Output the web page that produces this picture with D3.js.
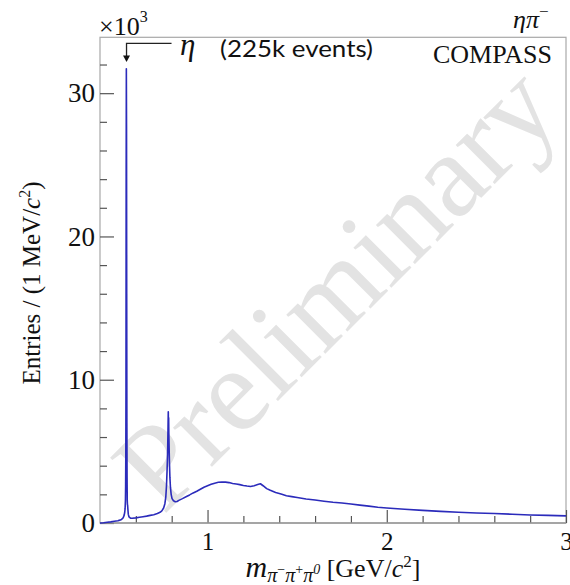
<!DOCTYPE html>
<html>
<head>
<meta charset="utf-8">
<script src="https://cdn.jsdelivr.net/npm/d3@7"></script>
<style>
  html, body { margin: 0; padding: 0; background: #fff; }
  svg { display: block; }
  .serif { font-family: "Liberation Serif", "DejaVu Serif", serif; }
</style>
</head>
<body>
<svg id="chart" width="570" height="585"></svg>
<script>
// π−π+π0 invariant mass spectrum, 1 MeV bins (counts in thousands)
const massGeV = [
  0.400, 0.420, 0.440, 0.460, 0.480, 0.500, 0.510, 0.520, 0.525, 0.530,
  0.535, 0.538, 0.540, 0.542, 0.543, 0.544, 0.545, 0.546, 0.547, 0.548,
  0.549, 0.550, 0.551, 0.552, 0.553, 0.554, 0.556, 0.558, 0.562, 0.570,
  0.580, 0.600, 0.620, 0.640, 0.660, 0.680, 0.700, 0.720, 0.735, 0.745,
  0.755, 0.762, 0.767, 0.771, 0.774, 0.777, 0.779, 0.780, 0.781, 0.782,
  0.783, 0.784, 0.786, 0.788, 0.790, 0.793, 0.797, 0.802, 0.810, 0.820,
  0.830, 0.840, 0.860, 0.880, 0.900, 0.920, 0.940, 0.960, 0.980, 1.000,
  1.020, 1.040, 1.060, 1.080, 1.100, 1.120, 1.140, 1.160, 1.180, 1.200,
  1.220, 1.240, 1.260, 1.280, 1.295, 1.310, 1.330, 1.350, 1.380, 1.410,
  1.440, 1.470, 1.500, 1.550, 1.600, 1.650, 1.700, 1.750, 1.800, 1.850,
  1.900, 1.950, 2.000, 2.100, 2.200, 2.300, 2.400, 2.500, 2.600, 2.700,
  2.800, 2.900, 3.000
];
const entriesK = [
  0.00, 0.02, 0.05, 0.08, 0.12, 0.16, 0.20, 0.25, 0.30, 0.38,
  0.55, 0.75, 1.00, 1.60, 2.60, 4.70, 9.50, 24.2, 31.7, 27.7,
  16.0, 7.00, 3.20, 1.60, 1.30, 1.25, 0.90, 0.60, 0.42, 0.34,
  0.33, 0.36, 0.40, 0.44, 0.48, 0.53, 0.58, 0.66, 0.75, 0.85,
  1.05, 1.35, 1.80, 2.60, 3.60, 4.80, 6.20, 7.00, 7.77, 6.70,
  7.35, 6.30, 5.00, 4.00, 3.20, 2.50, 2.00, 1.70, 1.55, 1.48,
  1.50, 1.58, 1.70, 1.83, 1.96, 2.10, 2.22, 2.36, 2.50, 2.60,
  2.70, 2.78, 2.84, 2.86, 2.85, 2.82, 2.76, 2.72, 2.68, 2.62,
  2.58, 2.55, 2.60, 2.68, 2.74, 2.60, 2.40, 2.28, 2.13, 2.02,
  1.90, 1.84, 1.78, 1.68, 1.60, 1.52, 1.45, 1.40, 1.33, 1.25,
  1.18, 1.10, 1.05, 0.96, 0.88, 0.81, 0.75, 0.70, 0.66, 0.61,
  0.56, 0.53, 0.50
];

// axis ticks
const xMajorTicks = [1, 2, 3];
const xMinorTicks = [0.6, 0.8, 1.2, 1.4, 1.6, 1.8, 2.2, 2.4, 2.6, 2.8];
const yMajorTicks = [0, 10, 20, 30];
const yMinorTicks = [2, 4, 6, 8, 12, 14, 16, 18, 22, 24, 26, 28, 32];

const etaMass = 0.548;

const svg = d3.select("#chart");
const frame = { left: 100, right: 566, top: 37.3, bottom: 523 };

const x = d3.scaleLinear().domain([0.4, 3.0]).range([frame.left, frame.right]);
const y = d3.scaleLinear().domain([0, 33.9]).range([frame.bottom, frame.top]);

// watermark
svg.append("text")
  .attr("class", "serif")
  .attr("transform", "translate(338,290) rotate(-45)")
  .attr("text-anchor", "middle")
  .attr("dy", "0.3em")
  .attr("font-size", 120)
  .attr("fill", "#e3e3e3")
  .text("Preliminary");

// frame
svg.append("rect")
  .attr("x", frame.left).attr("y", frame.top)
  .attr("width", frame.right - frame.left)
  .attr("height", frame.bottom - frame.top)
  .attr("fill", "none")
  .attr("stroke", "#a8a8a8")
  .attr("stroke-width", 1.2);

// axes with inward ticks
const axisStyle = g => {
  g.select(".domain").remove();
  g.selectAll(".tick line").attr("stroke", "#555").attr("stroke-width", 1.2);
};

svg.append("g")
  .attr("transform", `translate(0,${frame.bottom})`)
  .call(d3.axisBottom(x).tickValues(xMinorTicks).tickSize(-7).tickFormat(""))
  .call(axisStyle);

svg.append("g")
  .attr("transform", `translate(0,${frame.bottom})`)
  .call(d3.axisBottom(x).tickValues(xMajorTicks).tickSize(-13).tickPadding(9).tickFormat(d3.format("d")))
  .call(axisStyle)
  .call(g => g.selectAll("text")
    .attr("class", "serif")
    .attr("font-size", 25)
    .attr("fill", "#111"));

svg.append("g")
  .attr("transform", `translate(${frame.left},0)`)
  .call(d3.axisLeft(y).tickValues(yMinorTicks).tickSize(-7).tickFormat(""))
  .call(axisStyle);

svg.append("g")
  .attr("transform", `translate(${frame.left},0)`)
  .call(d3.axisLeft(y).tickValues(yMajorTicks).tickSize(-14).tickPadding(5).tickFormat(d3.format("d")))
  .call(axisStyle)
  .call(g => g.selectAll("text")
    .attr("class", "serif")
    .attr("font-size", 27)
    .attr("fill", "#111"));

// bottom axis line
svg.append("line")
  .attr("x1", frame.left).attr("x2", frame.right)
  .attr("y1", frame.bottom).attr("y2", frame.bottom)
  .attr("stroke", "#999").attr("stroke-width", 1.4);

// spectrum
const spectrum = massGeV.map((m, i) => [m, entriesK[i]]);
svg.append("path")
  .datum(spectrum)
  .attr("fill", "none")
  .attr("stroke", "#2b2bbb")
  .attr("stroke-width", 1.6)
  .attr("stroke-linejoin", "round")
  .attr("d", d3.line().x(d => x(d[0])).y(d => y(d[1])));

// ×10^3 multiplier
const mult = svg.append("text").attr("class", "serif").attr("x", 99).attr("y", 35).attr("fill", "#111");
mult.append("tspan").attr("font-size", 26).text("×10");
mult.append("tspan").attr("font-size", 16).attr("dy", -13).text("3");

// η marker arrow
const ax = x(etaMass);
svg.append("path")
  .attr("d", `M${ax + 45},43.3 H${ax} V57`)
  .attr("fill", "none").attr("stroke", "#222").attr("stroke-width", 1.3);
svg.append("path")
  .attr("d", `M${ax - 3.5},55.5 L${ax + 3.5},55.5 L${ax},62 Z`)
  .attr("fill", "#111");

svg.append("text").attr("class", "serif")
  .attr("x", 180).attr("y", 55)
  .attr("font-size", 31).attr("font-style", "italic").attr("fill", "#111")
  .text("η");

svg.append("text")
  .attr("x", 220).attr("y", 57)
  .attr("font-family", "Lato, 'Open Sans', sans-serif")
  .attr("font-size", 24).attr("fill", "#111")
  .attr("textLength", 153).attr("lengthAdjust", "spacingAndGlyphs")
  .text("(225k events)");

svg.append("text").attr("class", "serif")
  .attr("x", 552).attr("y", 63)
  .attr("text-anchor", "end")
  .attr("font-size", 26).attr("fill", "#111")
  .text("COMPASS");

// channel label ηπ−
const ch = svg.append("text").attr("class", "serif")
  .attr("x", 513).attr("y", 28)
  .attr("font-size", 26).attr("font-style", "italic").attr("fill", "#111");
ch.append("tspan").text("ηπ");
ch.append("tspan").attr("font-size", 17).attr("dy", -11).attr("font-style", "normal").text("−");

// y-axis title
const yt = svg.append("text").attr("class", "serif")
  .attr("transform", "translate(40,283) rotate(-90)")
  .attr("text-anchor", "middle")
  .attr("font-size", 25).attr("fill", "#111");
yt.append("tspan").text("Entries / (1 MeV/");
yt.append("tspan").attr("font-style", "italic").text("c");
yt.append("tspan").attr("font-size", 16).attr("dy", -10).text("2");
yt.append("tspan").attr("dy", 10).text(")");

// x-axis title
const xt = svg.append("text").attr("class", "serif")
  .attr("x", 333).attr("y", 577)
  .attr("text-anchor", "middle")
  .attr("font-size", 26).attr("fill", "#111");
xt.append("tspan").attr("font-style", "italic").attr("font-size", 30).text("m");
xt.append("tspan").attr("font-style", "italic").attr("font-size", 20).attr("dy", 5).text("π");
xt.append("tspan").attr("font-size", 14).attr("dy", -8).text("−");
xt.append("tspan").attr("font-style", "italic").attr("font-size", 20).attr("dy", 8).text("π");
xt.append("tspan").attr("font-size", 14).attr("dy", -8).text("+");
xt.append("tspan").attr("font-style", "italic").attr("font-size", 20).attr("dy", 8).text("π");
xt.append("tspan").attr("font-style", "italic").attr("font-size", 14).attr("dy", -8).text("0");
xt.append("tspan").attr("dy", 3).text(" [GeV/");
xt.append("tspan").attr("font-style", "italic").text("c");
xt.append("tspan").attr("font-size", 17).attr("dy", -10).text("2");
xt.append("tspan").attr("dy", 10).text("]");
</script>
</body>
</html>
